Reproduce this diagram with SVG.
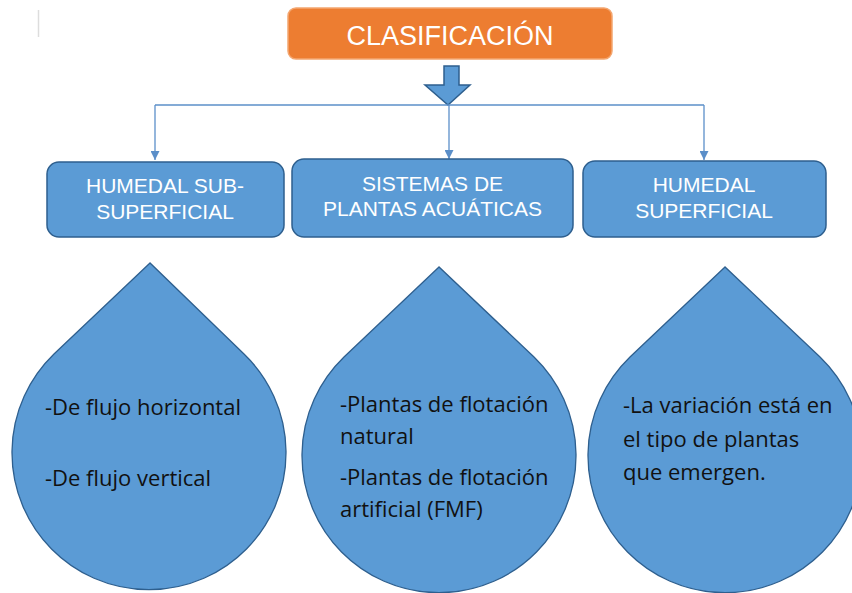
<svg xmlns="http://www.w3.org/2000/svg" width="852" height="593" viewBox="0 0 852 593">
<defs>
<style>
.box{fill:#5B9BD5;stroke:#2E5F8E;stroke-width:1.5}
.drop{fill:#5B9BD5;stroke:#2E5F8E;stroke-width:1.3}
.hd{font-family:"Liberation Sans",Arial,sans-serif;font-size:21px;fill:#FFFFFF;text-anchor:middle}
.body{font-family:"Open Sans","Liberation Sans",sans-serif;font-size:22px;fill:#111111}
.conn{fill:none;stroke:#5B8FC9;stroke-width:1.3}
</style>
<marker id="ah" viewBox="0 0 10 10" refX="10" refY="5" markerWidth="9" markerHeight="9" markerUnits="userSpaceOnUse" orient="auto">
<path d="M0,0 L10,5 L0,10 Z" fill="#5B8FC9"/>
</marker>
</defs>
<rect width="852" height="593" fill="#FFFFFF"/>
<line x1="38.5" y1="10" x2="38.5" y2="37" stroke="#DDDDDD" stroke-width="1.5"/>

<g id="clasificacion">
<rect x="288" y="8" width="324" height="51" rx="8" fill="#ED7D31" stroke="#F3A670" stroke-width="1.5"/>
<text x="450" y="45" font-family="'Liberation Sans',Arial,sans-serif" font-size="27" fill="#FFFFFF" text-anchor="middle">CLASIFICACIÓN</text>
</g>

<g id="block-arrow">
<path d="M444,66 L459,66 L459,85 L470,85 L448,105 L425,85 L444,85 Z" fill="#5B9BD5" stroke="#2E5F8E" stroke-width="1.5" stroke-linejoin="miter"/>
</g>

<g id="connectors">
<path class="conn" d="M155,105 L704,105"/>
<path class="conn" d="M155,105 L155,160" marker-end="url(#ah)"/>
<path class="conn" d="M449,105 L449,159" marker-end="url(#ah)"/>
<path class="conn" d="M704,105 L704,160" marker-end="url(#ah)"/>
</g>

<g id="humedal-sub">
<rect class="box" x="47" y="162" width="237" height="75" rx="12"/>
<text class="hd" x="165" y="193">HUMEDAL SUB-</text>
<text class="hd" x="165" y="219">SUPERFICIAL</text>
</g>

<g id="sistemas">
<rect class="box" x="292" y="159" width="281" height="78" rx="12"/>
<text class="hd" x="432.5" y="191">SISTEMAS DE</text>
<text class="hd" x="432.5" y="216">PLANTAS ACUÁTICAS</text>
</g>

<g id="humedal-sup">
<rect class="box" x="583" y="161" width="243" height="76" rx="12"/>
<text class="hd" x="704" y="192">HUMEDAL</text>
<text class="hd" x="704" y="218">SUPERFICIAL</text>
</g>

<g id="drop-left">
<path class="drop" d="M150,263 L54,354 A137,137 0 1 0 244,354 Z"/>
<text class="body" x="45" y="415">-De flujo horizontal</text>
<text class="body" x="45" y="486">-De flujo vertical</text>
</g>

<g id="drop-middle">
<path class="drop" d="M439,267 L344,357 A137,137 0 1 0 534,357 Z"/>
<text class="body" x="340" y="412">-Plantas de flotación</text>
<text class="body" x="340" y="444">natural</text>
<text class="body" x="340" y="485">-Plantas de flotación</text>
<text class="body" x="340" y="517">artificial (FMF)</text>
</g>

<g id="drop-right">
<path class="drop" d="M725,267 L630,357 A137,137 0 1 0 820,357 Z"/>
<text class="body" x="623" y="413">-La variación está en</text>
<text class="body" x="623" y="447">el tipo de plantas</text>
<text class="body" x="623" y="480">que emergen.</text>
</g>
</svg>
